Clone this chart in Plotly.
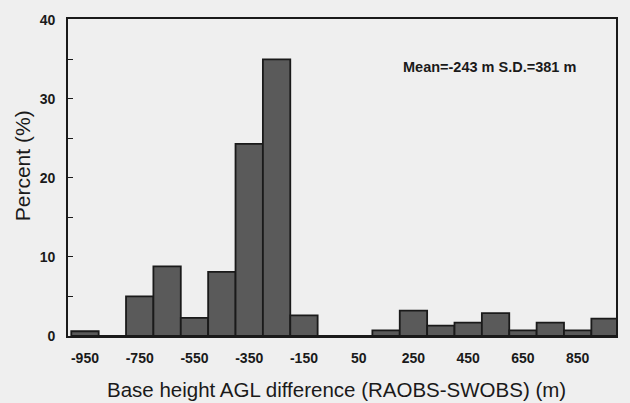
import plotly.graph_objects as go

# Histogram of base-height differences, 100 m bins
bin_centers = [-950, -850, -750, -650, -550, -450, -350, -250, -150, -50,
               50, 150, 250, 350, 450, 550, 650, 750, 850, 950]
percent = [0.6, 0.0, 5.0, 8.8, 2.3, 8.1, 24.3, 35.0, 2.6, 0.0,
           0.0, 0.7, 3.2, 1.3, 1.7, 2.9, 0.7, 1.7, 0.7, 2.2]
x_ticks = [-950, -750, -550, -350, -150, 50, 250, 450, 650, 850]
y_ticks = [0, 10, 20, 30, 40]
stats_text = "Mean=-243 m S.D.=381 m"

W, H = 630, 403
L, R, T, B = 68, 12, 17, 67
pw, ph = W - L - R, H - T - B


def px(x):
    return (x - L) / pw


def py(y):
    return (H - B - y) / ph


BG = "#efefef"
INK = "#1a1a1a"
FONT = "Liberation Sans, Arial, sans-serif"

fig = go.Figure(
    go.Bar(
        x=bin_centers,
        y=percent,
        width=100,
        marker=dict(color="#5a5a5a", line=dict(color=INK, width=1.8)),
    )
)

fig.update_layout(
    width=W,
    height=H,
    margin=dict(l=L, r=R, t=T, b=B),
    paper_bgcolor=BG,
    plot_bgcolor=BG,
    showlegend=False,
    font=dict(family=FONT, color=INK),
    xaxis=dict(
        range=[-1012, 990],
        tickvals=x_ticks,
        ticktext=[str(v) for v in x_ticks],
        ticks="",
        showgrid=False,
        zeroline=False,
        showline=True,
        linecolor=INK,
        linewidth=1.8,
        mirror=True,
        tickfont=dict(size=14, family=FONT, weight="bold"),
        ticklabelstandoff=8,
    ),
    yaxis=dict(
        range=[0, 40.1],
        tickvals=y_ticks,
        ticks="inside",
        ticklen=5,
        tickwidth=1.3,
        tickcolor=INK,
        minor=dict(tickvals=[5, 15, 25, 35], ticks="inside", ticklen=5,
                   tickwidth=1.3, tickcolor=INK),
        showgrid=False,
        zeroline=False,
        showline=True,
        linecolor=INK,
        linewidth=1.8,
        mirror=True,
        tickfont=dict(size=14, family=FONT, weight="bold"),
        ticklabelstandoff=8,
    ),
    annotations=[
        dict(text="Base height AGL difference (RAOBS-SWOBS) (m)",
             x=px(337), y=py(390), xref="paper", yref="paper",
             showarrow=False, xanchor="center", yanchor="middle",
             font=dict(size=20.5, family=FONT, color=INK)),
        dict(text="Percent (%)", textangle=-90,
             x=px(22), y=py(165), xref="paper", yref="paper",
             showarrow=False, xanchor="center", yanchor="middle",
             font=dict(size=21, family=FONT, color=INK)),
        dict(text=stats_text,
             x=px(491), y=py(65), xref="paper", yref="paper",
             showarrow=False, xanchor="center", yanchor="middle",
             font=dict(size=14.5, family=FONT, color=INK, weight="bold")),
    ],
)

fig.write_html("out.html")
